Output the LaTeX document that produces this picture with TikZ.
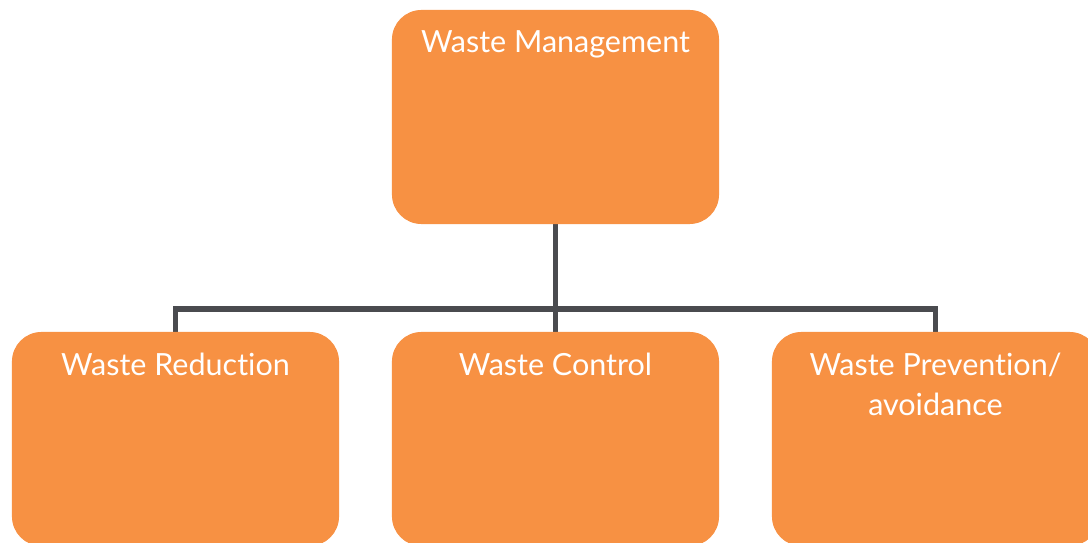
\documentclass[tikz,border=0pt]{standalone}
\usepackage{fontspec}
\setmainfont{Lato}[Ligatures={NoCommon,NoContextual}]
\usetikzlibrary{positioning,calc,backgrounds}
\definecolor{wasteorange}{HTML}{F79143}
\definecolor{linkgray}{HTML}{4A4B4F}
\tikzset{
	wbox/.style={fill=wasteorange, rounded corners=21pt, minimum width=8.175cm, minimum height=5.35cm, inner sep=0pt},
	wtext/.style={text=white, font=\fontsize{21.7}{28.5}\selectfont, align=center, anchor=north, inner sep=0pt},
	link/.style={draw=linkgray, line width=3.6pt, line join=miter}
}
\begin{document}
\begin{tikzpicture}[x=0.025cm, y=-0.025cm]
	\useasboundingbox (0,0) rectangle (1088,543);
	\begin{scope}
	\clip (0,0) rectangle (1088,543);
	\node[wbox] (W) at (555.5,117) {};
	\node[wbox] (R) at (175.5,439) {};
	\node[wbox] (C) at (555.5,439) {};
	\node[wbox] (P) at (935.5,439) {};
	\node[wtext] (Wt) at ($(W.north)+(0,21)$) {Waste Management};
	\node[wtext] (Rt) at ($(R.north)+(0,21)$) {Waste Reduction};
	\node[wtext] (Ct) at ($(C.north)+(0,21)$) {Waste Control};
	\node[wtext] (Pt) at ($(P.north)+(0,21)$) {Waste Prevention/\\avoidance};
	\end{scope}
	
	\coordinate (bus) at (555.5,309);
	\begin{scope}[on background layer]
	\draw[link] (W.south) -- (C.north);
	\draw[link] (R.north) |- (bus) -| (P.north);
	\end{scope}
\end{tikzpicture}
\end{document}
